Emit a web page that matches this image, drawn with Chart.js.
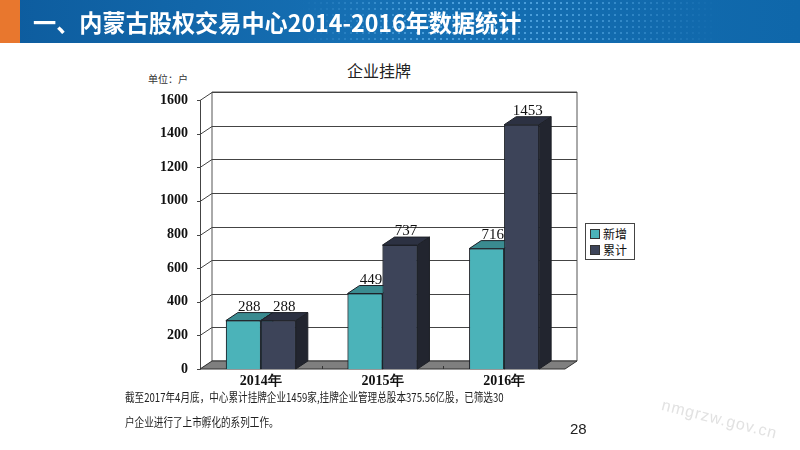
<!DOCTYPE html>
<html>
<head>
<meta charset="utf-8">
<script src="https://cdn.jsdelivr.net/npm/chart.js@4.4.1/dist/chart.umd.min.js"></script>
<style>
    body { margin: 0; background: #fff; font-family: "Noto Sans CJK SC", sans-serif; }
    #slide { position: relative; width: 800px; height: 450px; overflow: hidden; background: #fff; }
    #header {
        position: absolute; left: 0; top: 0; width: 800px; height: 43px;
        background: linear-gradient(90deg, #0d5c9e 0%, #1670b4 45%, #0f67aa 100%);
    }
    #header .dots {
        position: absolute; left: 300px; top: 0; width: 420px; height: 43px;
        background-image: radial-gradient(circle, rgba(120,200,255,0.55) 1px, transparent 1.5px);
        background-size: 6px 6px;
        -webkit-mask-image: linear-gradient(90deg, transparent, #000 30%, #000 60%, transparent);
    }
    #header .bar { position: absolute; left: 0; top: 0; width: 20px; height: 43px; background: #e8772e; }
    #header .text {
        position: absolute; left: 33px; top: 3px; color: #fff; font-weight: bold;
        font-size: 24px; line-height: 37px; white-space: nowrap;
        transform: scaleX(0.965); transform-origin: left center;
    }
    #chartTitle { position: absolute; left: 347px; top: 58px; font-size: 16px; color: #222; }
    #unit { position: absolute; left: 148px; top: 71px; font-size: 10px; color: #333; }
    #legend {
        position: absolute; left: 585px; top: 223px; width: 48px; height: 35px;
        border: 1px solid #444; background: #fff; font-size: 12px; color: #111;
    }
    #legend div { position: absolute; left: 4px; height: 15px; line-height: 15px; white-space: nowrap; }
    #legend span { display: inline-block; width: 8px; height: 8px; margin-right: 3px; border: 1px solid #333; vertical-align: 0px; }
    .cap { position: absolute; left: 125px; font-size: 12px; color: #222; white-space: nowrap; transform: scaleX(0.8); transform-origin: left center; }
    #page { position: absolute; left: 570px; top: 420px; font-size: 15px; color: #222; font-family: "Liberation Sans", sans-serif; }
    #mark { position: absolute; left: 662px; top: 396px; font-size: 16px; letter-spacing: 1px; color: #e2e2e2; transform: rotate(14deg); transform-origin: left center; font-family: "Liberation Sans", sans-serif; }
    canvas { position: absolute; left: 0; top: 0; }
</style>
</head>
<body>
<div id="slide">
    <div id="header">
        <div class="dots"></div>
        <div class="bar"></div>
        <div class="text">一、内蒙古股权交易中心2014-2016年数据统计</div>
    </div>
    <div id="chartTitle">企业挂牌</div>
    <div id="unit">单位：户</div>
    <canvas id="chart" width="800" height="450"></canvas>
    <div id="legend"></div>
    <div class="cap" style="top:388px">截至2017年4月底，中心累计挂牌企业1459家,挂牌企业管理总股本375.56亿股，已筛选30</div>
    <div class="cap" style="top:413px">户企业进行了上市孵化的系列工作。</div>
    <div id="page">28</div>
    <div id="mark">nmgrzw.gov.cn</div>
</div>
<script>
const years = ['2014年', '2015年', '2016年'];
const newListed = [288, 449, 716];
const totalListed = [288, 737, 1453];
const seriesNames = ['新增', '累计'];
const yTicks = [0, 200, 400, 600, 800, 1000, 1200, 1400, 1600];

// front / top / side shades per series
const shades = [
    { front: '#4bb3b9', top: '#3a8b90', side: '#2f7377' },
    { front: '#3d4459', top: '#2c3142', side: '#22252f' }
];
const DX = 12, DY = 8;
const serif = '"Liberation Serif", "DejaVu Serif", serif';

// legend
const legendEl = document.getElementById('legend');
seriesNames.forEach((name, i) => {
    const d = document.createElement('div');
    d.style.top = (2 + i * 16) + 'px';
    d.innerHTML = '<span style="background:' + shades[i].front + '"></span>' + name;
    legendEl.appendChild(d);
});

function poly(ctx, pts, fill, stroke) {
    ctx.beginPath();
    ctx.moveTo(pts[0][0], pts[0][1]);
    for (let i = 1; i < pts.length; i++) ctx.lineTo(pts[i][0], pts[i][1]);
    ctx.closePath();
    if (fill) { ctx.fillStyle = fill; ctx.fill(); }
    if (stroke) { ctx.strokeStyle = stroke; ctx.lineWidth = 1; ctx.stroke(); }
}

// back wall, side wall, floor, then 3D bars
const wallPlugin = {
    id: 'wall',
    beforeDatasetsDraw(chart) {
        const { ctx, chartArea: a, scales: { y } } = chart;
        const y0 = y.getPixelForValue(0);
        const yTop = y.getPixelForValue(1600);
        ctx.save();
        poly(ctx, [[a.left + DX, yTop - DY], [a.right + DX, yTop - DY], [a.right + DX, y0 - DY], [a.left + DX, y0 - DY]], '#fff', '#555');
        ctx.strokeStyle = '#444';
        ctx.lineWidth = 1;
        yTicks.forEach(v => {
            const py = Math.round(y.getPixelForValue(v)) + 0.5;
            ctx.beginPath();
            if (v > 0) {
                ctx.moveTo(a.left + DX, py - DY);
                ctx.lineTo(a.right + DX, py - DY);
            }
            ctx.moveTo(a.left - 3, py);
            ctx.lineTo(a.left, py);
            ctx.lineTo(a.left + DX, py - DY);
            ctx.stroke();
        });
        ctx.beginPath();
        ctx.moveTo(a.left + 0.5, yTop);
        ctx.lineTo(a.left + 0.5, y0);
        ctx.stroke();
        // floor
        poly(ctx, [[a.left, y0], [a.right, y0], [a.right + DX, y0 - DY], [a.left + DX, y0 - DY]], '#7f7f7f', '#333');
        const x = chart.scales.x;
        for (let i = 1; i < years.length; i++) {
            const px = Math.round((x.getPixelForValue(i - 1) + x.getPixelForValue(i)) / 2) + 0.5;
            ctx.beginPath();
            ctx.moveTo(px, y0);
            ctx.lineTo(px, y0 - 3);
            ctx.stroke();
        }
        ctx.restore();
    },
    afterDatasetsDraw(chart) {
        const { ctx } = chart;
        ctx.save();
        // redraw each series in dataset order so the dark bar covers the teal one
        chart.data.datasets.forEach((ds, di) => {
            const sh = shades[di];
            chart.getDatasetMeta(di).data.forEach(bar => {
                bar.draw(ctx);
                const l = bar.x - bar.width / 2, r = bar.x + bar.width / 2;
                const t = bar.y, b = bar.base;
                poly(ctx, [[l, t], [r, t], [r + DX, t - DY], [l + DX, t - DY]], sh.top, '#1e2128');
                poly(ctx, [[r, t], [r + DX, t - DY], [r + DX, b - DY], [r, b]], sh.side, '#1e2128');
            });
        });
        ctx.font = '15px ' + serif;
        ctx.fillStyle = '#111';
        ctx.textAlign = 'center';
        ctx.textBaseline = 'alphabetic';
        chart.data.datasets.forEach((ds, di) => {
            chart.getDatasetMeta(di).data.forEach((bar, i) => {
                ctx.fillText(ds.data[i], bar.x + DX / 2, bar.y - DY - 2);
            });
        });
        ctx.restore();
    }
};

new Chart(document.getElementById('chart'), {
    type: 'bar',
    data: {
        labels: years,
        datasets: [
            { label: seriesNames[0], data: newListed, backgroundColor: shades[0].front, borderColor: '#1e2128', borderWidth: 1 },
            { label: seriesNames[1], data: totalListed, backgroundColor: shades[1].front, borderColor: '#1e2128', borderWidth: 1 }
        ]
    },
    options: {
        responsive: false,
        animation: false,
        layout: { padding: { left: 140, top: 100, right: 235, bottom: 0 } },
        plugins: { legend: { display: false }, tooltip: { enabled: false } },
        datasets: { bar: { categoryPercentage: 0.575, barPercentage: 1.0 } },
        scales: {
            x: {
                grid: { display: false },
                border: { display: false },
                ticks: { font: { family: serif, size: 14, weight: 'bold' }, color: '#111', padding: -4 },
                afterFit: s => { s.height = 81; }
            },
            y: {
                min: 0, max: 1600,
                afterBuildTicks: s => { s.ticks = yTicks.map(v => ({ value: v })); },
                grid: { display: false },
                border: { display: false },
                ticks: {
                    font: { family: serif, size: 14, weight: 'bold' }, color: '#111', padding: 4,
                    callback: v => String(v)
                },
                afterFit: s => { s.width = 60; }
            }
        }
    },
    plugins: [wallPlugin]
});
</script>
</body>
</html>
